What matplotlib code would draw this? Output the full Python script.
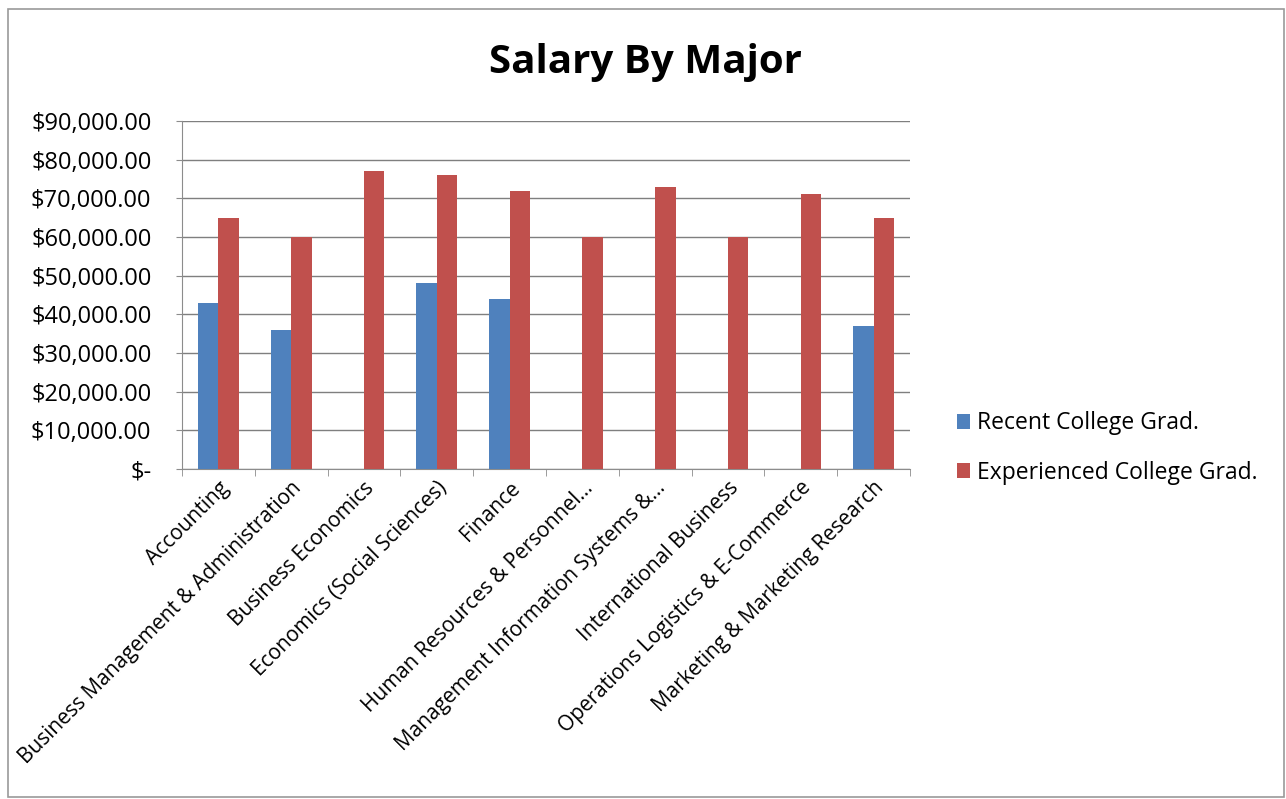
import matplotlib
matplotlib.use("Agg")
import matplotlib.pyplot as plt
import numpy as np
from matplotlib.patches import Rectangle

categories = ["Accounting", "Business Management & Administration", "Business Economics",
              "Economics (Social Sciences)", "Finance", "Human Resources & Personnel...",
              "Management Information Systems &...", "International Business",
              "Operations Logistics & E-Commerce", "Marketing & Marketing Research"]
recent = [43000, 36000, 0, 48000, 44000, 0, 0, 0, 0, 37000]
experienced = [65000, 60000, 77000, 76000, 72000, 60000, 73000, 60000, 71000, 65000]
series_names = ["Recent College Grad.", "Experienced College Grad."]
yticks = list(range(0, 90001, 10000))

plt.rcParams['font.family'] = ['Open Sans', 'DejaVu Sans']

fig = plt.figure(figsize=(12.86, 7.99), dpi=100)
ax = fig.add_axes([182/1286, 1-469/799, 728/1286, 348/799])

x = np.arange(len(categories))
w = 0.28
blue = "#4F81BD"
red = "#C0504D"
ax.bar(x - w/2, recent, w, color=blue, label=series_names[0], zorder=3)
ax.bar(x + w/2, experienced, w, color=red, label=series_names[1], zorder=3)

ax.set_xlim(-0.5, len(categories) - 0.5)
ax.set_ylim(0, 90000)
ax.set_yticks(yticks)
ax.set_yticklabels(["$-" if v == 0 else f"${v:,.2f}" for v in yticks], fontsize=17)
ax.yaxis.grid(True, color="#7f7f7f", linewidth=1.0, zorder=0)
ax.set_axisbelow(True)
for s in ["top", "right"]:
    ax.spines[s].set_visible(False)
ax.spines["left"].set_color("#8c8c8c")
ax.spines["bottom"].set_color("#8c8c8c")
ax.tick_params(axis="y", length=4, color="#8c8c8c", pad=18)

ax.set_xticks(x)
ax.set_xticklabels(categories, rotation=45, ha="right", rotation_mode="anchor", fontsize=15)
ax.tick_params(axis="x", length=0, pad=6)
ax.set_xticks(np.arange(-0.5, len(categories), 1.0), minor=True)
ax.tick_params(axis="x", which="minor", length=5, color="#8c8c8c")

fig.text(645/1286, 1 - 62/799, "Salary By Major", ha="center", va="center",
         fontsize=29, fontweight="bold")

leg = fig.legend(loc="center left", bbox_to_anchor=(936/1286, 1 - 448/799), frameon=False,
                 fontsize=16.5, handlelength=0.6, handleheight=0.6, handletextpad=0.3,
                 labelspacing=1.1)

fig.patches.append(Rectangle((8/1286, 2/799), 1276/1286, 788/799, transform=fig.transFigure,
                             fill=False, edgecolor="#9a9a9a", linewidth=1.2))

fig.savefig("out.png", dpi=100)
